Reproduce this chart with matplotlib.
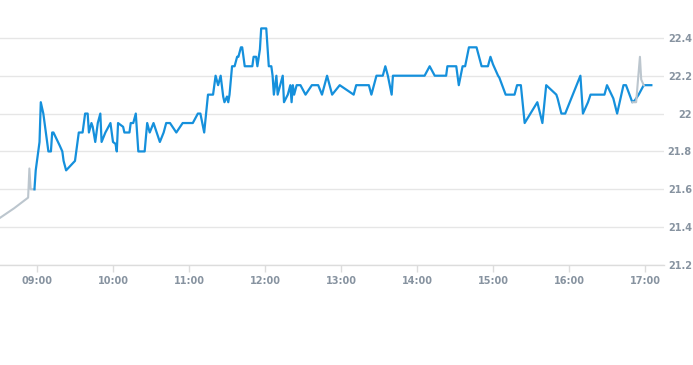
import matplotlib
matplotlib.use("Agg")
import matplotlib.pyplot as plt
import numpy as np

# main (blue) series: time of day, price
main_times = ["08:58", "08:59", "09:02", "09:03", "09:05", "09:06", "09:09", "09:11", "09:12", "09:13",
              "09:18", "09:20", "09:21", "09:23", "09:30", "09:33", "09:36", "09:38", "09:40", "09:41",
              "09:43", "09:44", "09:46", "09:48", "09:50", "09:51", "09:54", "09:58", "10:00", "10:02",
              "10:03", "10:04", "10:08", "10:09", "10:13", "10:14", "10:16", "10:18", "10:20", "10:25",
              "10:27", "10:29", "10:32", "10:37", "10:40", "10:42", "10:45", "10:50", "10:55", "11:03",
              "11:07", "11:09", "11:12", "11:15", "11:19", "11:21", "11:23", "11:25", "11:27", "11:28",
              "11:30", "11:31", "11:32", "11:34", "11:36", "11:38", "11:39", "11:41", "11:42", "11:44",
              "11:50", "11:51", "11:53", "11:54", "11:56", "11:57", "12:01", "12:03", "12:05", "12:06",
              "12:07", "12:09", "12:10", "12:12", "12:14", "12:15", "12:18", "12:20", "12:21", "12:22",
              "12:23", "12:25", "12:28", "12:32", "12:37", "12:42", "12:45", "12:49", "12:53", "12:59",
              "13:10", "13:12", "13:22", "13:24", "13:28", "13:33", "13:35", "13:37", "13:40", "13:41",
              "14:06", "14:10", "14:14", "14:23", "14:24", "14:31", "14:33", "14:36", "14:38", "14:41",
              "14:47", "14:51", "14:56", "14:58", "15:00", "15:04", "15:05", "15:10", "15:17", "15:19",
              "15:22", "15:25", "15:35", "15:39", "15:42", "15:50", "15:51", "15:54", "15:57", "16:09",
              "16:11", "16:15", "16:17", "16:28", "16:30", "16:35", "16:38", "16:43", "16:45", "16:50",
              "16:52", "16:55", "16:59", "17:05"]
main_vals = [21.60, 21.70, 21.85, 22.06, 22.00, 21.95, 21.80, 21.80, 21.90, 21.90,
             21.83, 21.80, 21.75, 21.70, 21.75, 21.90, 21.90, 22.00, 22.00, 21.90,
             21.95, 21.93, 21.85, 21.95, 22.00, 21.85, 21.90, 21.95, 21.85, 21.84,
             21.80, 21.95, 21.93, 21.90, 21.90, 21.95, 21.95, 22.00, 21.80, 21.80,
             21.95, 21.90, 21.95, 21.85, 21.90, 21.95, 21.95, 21.90, 21.95, 21.95,
             22.00, 22.00, 21.90, 22.10, 22.10, 22.20, 22.15, 22.20, 22.09, 22.06,
             22.09, 22.06, 22.10, 22.25, 22.25, 22.30, 22.30, 22.35, 22.35, 22.25,
             22.25, 22.30, 22.30, 22.25, 22.34, 22.45, 22.45, 22.25, 22.25, 22.20,
             22.10, 22.20, 22.10, 22.15, 22.20, 22.06, 22.10, 22.15, 22.06, 22.15,
             22.10, 22.15, 22.15, 22.10, 22.15, 22.15, 22.10, 22.20, 22.10, 22.15,
             22.10, 22.15, 22.15, 22.10, 22.20, 22.20, 22.25, 22.20, 22.10, 22.20,
             22.20, 22.25, 22.20, 22.20, 22.25, 22.25, 22.15, 22.25, 22.25, 22.35,
             22.35, 22.25, 22.25, 22.30, 22.26, 22.20, 22.19, 22.10, 22.10, 22.15,
             22.15, 21.95, 22.06, 21.95, 22.15, 22.10, 22.08, 22.00, 22.00, 22.20,
             22.00, 22.06, 22.10, 22.10, 22.15, 22.08, 22.00, 22.15, 22.15, 22.06,
             22.07, 22.10, 22.15, 22.15]

# grey series: before open and around the close
pre_times = ["08:31", "08:42", "08:53", "08:54", "08:55", "08:58"]
pre_vals = [21.45, 21.50, 21.556, 21.71, 21.60, 21.60]
post_times = ["16:50", "16:53", "16:56", "16:57", "16:59"]
post_vals = [22.06, 22.06, 22.30, 22.18, 22.15]

tick_labels = ["09:00", "10:00", "11:00", "12:00", "13:00", "14:00", "15:00", "16:00", "17:00"]
y_ticks = [21.2, 21.4, 21.6, 21.8, 22.0, 22.2, 22.4]


def to_min(t):
    h, m = t.split(":")
    return int(h) * 60 + int(m)


def mins(lst):
    return np.array([to_min(t) for t in lst])


fig = plt.figure(figsize=(6.93, 3.65), dpi=100)
ax = fig.add_axes([0, 100 / 365, 664 / 693, 265 / 365])

grid_c = "#e6e6e6"
lab_c = "#8793a0"

ax.plot(mins(pre_times), pre_vals, color="#bcc6ce", lw=1.5, zorder=3)
ax.plot(mins(main_times), main_vals, color="#1590dc", lw=1.6, zorder=4)
ax.plot(mins(post_times), post_vals, color="#bcc6ce", lw=1.5, zorder=5)

ax.set_xlim(510.8, 1035)
ax.set_ylim(21.2, 22.6)

ax.set_yticks(y_ticks)
ax.set_yticklabels(["21.2", "21.4", "21.6", "21.8", "22", "22.2", "22.4"])
ax.yaxis.tick_right()
ax.tick_params(axis="y", length=0, pad=20, labelsize=7, labelcolor=lab_c)
for lab in ax.get_yticklabels():
    lab.set_ha("right")
    lab.set_fontweight("bold")
ax.grid(axis="y", color=grid_c, lw=1)

ax.set_xticks(mins(tick_labels))
ax.set_xticklabels(tick_labels)
ax.tick_params(axis="x", length=5, width=1, color="#dcdcdc", pad=3, labelsize=7, labelcolor=lab_c)
for lab in ax.get_xticklabels():
    lab.set_fontweight("bold")

for s in ["top", "left", "right"]:
    ax.spines[s].set_visible(False)
ax.spines["bottom"].set_color("#dcdcdc")
ax.spines["bottom"].set_linewidth(1)
ax.set_axisbelow(True)

fig.savefig("out.png", dpi=100)
